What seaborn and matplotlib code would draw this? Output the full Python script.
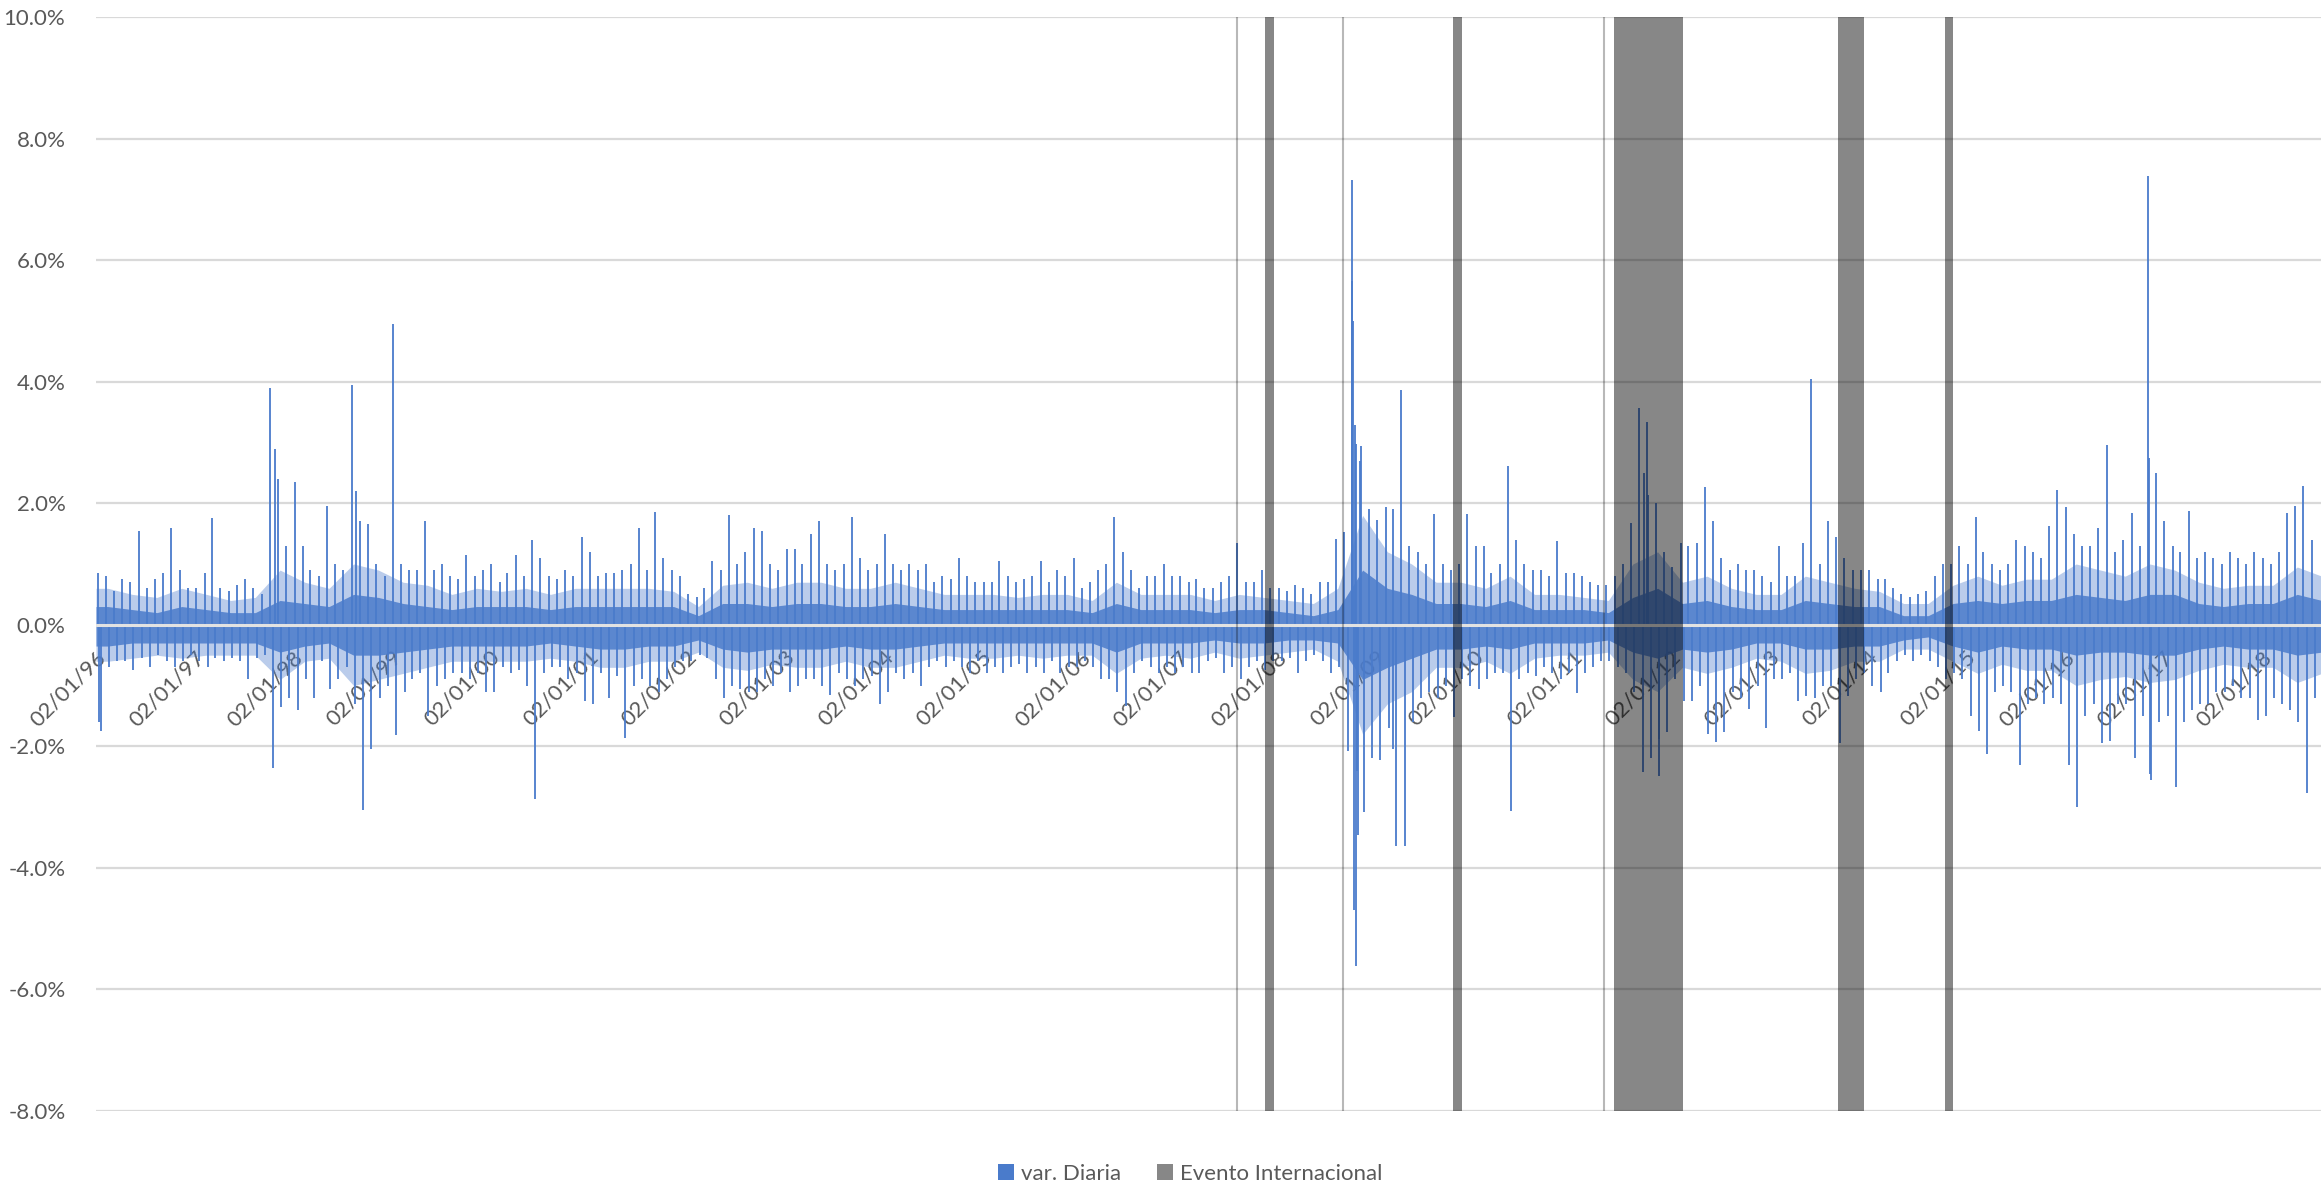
import matplotlib
matplotlib.use("Agg")
import numpy as np
import pandas as pd
import seaborn as sns
import matplotlib.pyplot as plt
import matplotlib.dates as mdates
from matplotlib.patches import Patch

# ---------------- data (values in %) ----------------
# monthly extreme daily variation, Jan-1996 .. Jul-2018
peak_up = [
    0.85, 0.8, 0.55, 0.75, 0.7, 1.55, 0.6, 0.75, 0.85, 1.6, 0.9, 0.6,      # 1996
    0.6, 0.85, 1.75, 0.6, 0.55, 0.65, 0.75, 0.6, 0.5, 3.9, 2.4, 1.3,       # 1997
    2.35, 1.3, 0.9, 0.8, 1.95, 1.0, 0.9, 3.95, 1.7, 1.65, 1.0, 0.8,        # 1998
    4.95, 1.0, 0.9, 0.9, 1.7, 0.9, 1.0, 0.8, 0.75, 1.15, 0.8, 0.9,         # 1999
    1.0, 0.7, 0.85, 1.15, 0.8, 1.4, 1.1, 0.8, 0.75, 0.9, 0.8, 1.45,        # 2000
    1.2, 0.8, 0.85, 0.85, 0.9, 1.0, 1.6, 0.9, 1.85, 1.1, 0.9, 0.8,         # 2001
    0.5, 0.45, 0.6, 1.05, 0.9, 1.8, 1.0, 1.2, 1.6, 1.55, 1.0, 0.9,         # 2002
    1.25, 1.25, 1.0, 1.5, 1.7, 1.0, 0.9, 1.0, 1.78, 1.1, 0.9, 1.0,         # 2003
    1.5, 1.0, 0.9, 1.0, 0.9, 1.0, 0.7, 0.8, 0.75, 1.1, 0.8, 0.7,           # 2004
    0.7, 0.7, 1.05, 0.8, 0.7, 0.75, 0.8, 1.05, 0.7, 0.9, 0.8, 1.1,         # 2005
    0.6, 0.7, 0.9, 1.0, 1.77, 1.2, 0.9, 0.6, 0.8, 0.8, 1.0, 0.8,           # 2006
    0.8, 0.7, 0.75, 0.6, 0.6, 0.7, 0.8, 1.34, 0.7, 0.7, 0.9, 0.6,          # 2007
    0.6, 0.55, 0.65, 0.6, 0.5, 0.7, 0.7, 1.41, 1.52, 7.31, 2.94, 1.9,      # 2008
    1.73, 1.93, 1.9, 3.86, 1.3, 1.2, 1.0, 1.82, 1.0, 0.9, 1.0, 1.82,       # 2009
    1.3, 1.3, 0.85, 1.0, 2.62, 1.4, 1.0, 0.9, 0.9, 0.8, 1.38, 0.85,        # 2010
    0.85, 0.8, 0.7, 0.65, 0.65, 0.8, 1.0, 1.68, 3.57, 3.34, 2.0, 1.2,      # 2011
    0.95, 1.35, 1.3, 1.35, 2.26, 1.7, 1.1, 0.9, 1.0, 0.9, 0.9, 0.8,        # 2012
    0.7, 1.3, 0.8, 0.8, 1.35, 4.04, 1.0, 1.71, 1.45, 1.1, 0.9, 0.9,        # 2013
    0.9, 0.75, 0.75, 0.6, 0.5, 0.45, 0.5, 0.55, 0.8, 1.0, 1.0, 1.3,        # 2014
    1.0, 1.78, 1.2, 1.0, 0.9, 1.0, 1.4, 1.3, 1.2, 1.1, 1.62, 2.22,         # 2015
    1.93, 1.5, 1.3, 1.3, 1.6, 2.96, 1.2, 1.4, 1.84, 1.3, 7.39, 2.49,       # 2016
    1.7, 1.3, 1.2, 1.88, 1.1, 1.2, 1.1, 1.0, 1.2, 1.1, 1.0, 1.2,           # 2017
    1.1, 1.0, 1.2, 1.84, 1.95, 2.28, 1.4,                                  # 2018
]
peak_down = [
    -1.75, -0.7, -0.6, -0.6, -0.75, -0.55, -0.7, -0.5, -0.6, -0.7, -0.6, -0.5,
    -0.6, -0.7, -0.55, -0.6, -0.55, -0.6, -0.9, -0.55, -0.5, -2.35, -1.35, -1.2,
    -1.4, -0.9, -1.2, -0.6, -1.06, -0.9, -0.7, -1.3, -3.05, -2.05, -1.2, -1.0,
    -1.82, -1.1, -0.9, -0.8, -1.5, -1.0, -0.9, -0.8, -0.8, -0.9, -0.8, -1.1,
    -1.1, -0.7, -0.8, -0.75, -1.0, -2.86, -0.8, -0.7, -0.7, -0.9, -0.8, -1.25,
    -1.3, -0.8, -1.2, -0.85, -1.86, -1.0, -0.9, -1.0, -1.1, -0.9, -0.7, -0.6,
    -0.6, -0.5, -0.55, -0.9, -1.2, -1.0, -1.05, -1.1, -1.1, -0.9, -1.0, -0.8,
    -1.1, -1.0, -0.9, -0.9, -1.0, -1.15, -0.8, -0.9, -1.0, -0.9, -0.85, -1.3,
    -1.1, -0.8, -0.9, -0.8, -1.0, -0.7, -0.6, -0.7, -0.6, -0.7, -0.8, -0.6,
    -0.8, -0.7, -0.8, -0.7, -0.65, -0.8, -0.7, -0.8, -0.6, -0.8, -0.7, -0.7,
    -0.6, -0.7, -0.9, -0.9, -1.1, -1.34, -0.8, -0.6, -0.7, -0.8, -0.7, -0.8,
    -0.7, -0.8, -0.8, -0.6, -0.55, -0.8, -0.7, -0.9, -0.7, -0.6, -0.75, -0.6,
    -0.6, -0.55, -0.8, -0.6, -0.5, -0.6, -0.8, -0.7, -2.07, -5.62, -3.08, -2.2,
    -2.23, -1.7, -3.64, -3.64, -1.6, -1.2, -1.1, -1.2, -1.0, -1.52, -0.9, -1.0,
    -1.05, -0.9, -0.8, -0.8, -3.07, -0.9, -0.8, -0.85, -0.7, -0.8, -0.9, -0.8,
    -1.13, -0.8, -0.7, -0.6, -0.6, -0.7, -0.8, -1.1, -2.42, -2.2, -2.48, -1.77,
    -0.9, -1.25, -1.25, -1.0, -1.8, -1.93, -1.77, -1.1, -1.2, -1.39, -1.0, -1.7,
    -0.9, -0.9, -0.8, -1.26, -1.17, -1.2, -1.0, -1.0, -1.95, -1.17, -0.9, -0.8,
    -1.0, -1.1, -0.8, -0.6, -0.5, -0.6, -0.5, -0.6, -0.7, -0.9, -0.8, -0.9,
    -1.5, -1.75, -2.13, -1.1, -1.0, -1.1, -2.3, -1.3, -1.2, -1.3, -1.2, -1.3,
    -2.3, -3.0, -1.5, -1.3, -1.95, -1.91, -1.3, -1.3, -2.2, -1.5, -2.55, -1.6,
    -1.5, -2.67, -1.6, -1.4, -1.3, -1.3, -1.1, -1.1, -1.0, -1.2, -1.2, -1.57,
    -1.5, -1.2, -1.3, -1.4, -1.6, -2.77, -1.2,
]

# other notable single-day moves
spike_dates = ["1996-01-12", "1997-10-29", "1998-08-25", "2008-10-06", "2008-10-10",
               "2008-10-13", "2008-10-16", "2008-10-21", "2008-10-24", "2008-10-28",
               "2008-11-05", "2009-03-06", "2011-09-27", "2011-10-11", "2011-11-21",
               "2016-11-11", "2016-11-15"]
spike_values = [-1.6, 2.9, 2.2, 5.66, 5.0,
                -4.7, 3.28, 2.97, -2.4, -3.46,
                2.7, -2.05, 2.5, 2.13, -1.88,
                2.75, -2.46]

# quarterly envelope of the dense core / of the bulk of the bars (1996Q1 .. 2018Q3)
core_up = [0.3, 0.25, 0.2, 0.3, 0.25, 0.2, 0.2, 0.4, 0.35, 0.3, 0.5, 0.45,
           0.35, 0.3, 0.25, 0.3, 0.3, 0.3, 0.25, 0.3, 0.3, 0.3, 0.3, 0.3,
           0.15, 0.35, 0.35, 0.3, 0.35, 0.35, 0.3, 0.3, 0.35, 0.3, 0.25, 0.25,
           0.25, 0.25, 0.25, 0.25, 0.2, 0.35, 0.25, 0.25, 0.25, 0.2, 0.25, 0.25,
           0.2, 0.15, 0.25, 0.9, 0.6, 0.5, 0.35, 0.35, 0.3, 0.4, 0.25, 0.25,
           0.25, 0.2, 0.45, 0.6, 0.35, 0.4, 0.3, 0.25, 0.25, 0.4, 0.35, 0.3,
           0.3, 0.15, 0.15, 0.35, 0.4, 0.35, 0.4, 0.4, 0.5, 0.45, 0.4, 0.5,
           0.5, 0.35, 0.3, 0.35, 0.35, 0.5, 0.4]
core_down = [-0.35, -0.3, -0.3, -0.3, -0.3, -0.3, -0.3, -0.45, -0.35, -0.3, -0.5, -0.5,
             -0.45, -0.4, -0.35, -0.35, -0.35, -0.35, -0.3, -0.35, -0.4, -0.4, -0.35, -0.35,
             -0.25, -0.4, -0.45, -0.4, -0.4, -0.4, -0.35, -0.4, -0.4, -0.35, -0.3, -0.3,
             -0.3, -0.3, -0.3, -0.3, -0.3, -0.45, -0.3, -0.3, -0.3, -0.25, -0.3, -0.3,
             -0.25, -0.25, -0.3, -0.9, -0.7, -0.55, -0.4, -0.4, -0.35, -0.4, -0.3, -0.3,
             -0.3, -0.25, -0.45, -0.55, -0.4, -0.45, -0.4, -0.3, -0.3, -0.4, -0.4, -0.35,
             -0.35, -0.25, -0.2, -0.35, -0.45, -0.35, -0.4, -0.4, -0.5, -0.45, -0.45, -0.5,
             -0.5, -0.4, -0.35, -0.4, -0.4, -0.5, -0.45]
bulk_up = [0.6, 0.5, 0.45, 0.6, 0.5, 0.4, 0.45, 0.9, 0.7, 0.6, 1.0, 0.9,
           0.7, 0.65, 0.5, 0.6, 0.55, 0.6, 0.5, 0.6, 0.6, 0.6, 0.6, 0.55,
           0.3, 0.65, 0.7, 0.6, 0.7, 0.7, 0.6, 0.6, 0.7, 0.6, 0.5, 0.5,
           0.5, 0.45, 0.5, 0.5, 0.4, 0.7, 0.5, 0.5, 0.5, 0.4, 0.5, 0.45,
           0.4, 0.35, 0.6, 1.8, 1.2, 1.0, 0.7, 0.7, 0.6, 0.8, 0.5, 0.5,
           0.45, 0.4, 1.0, 1.2, 0.7, 0.8, 0.6, 0.5, 0.5, 0.8, 0.7, 0.6,
           0.55, 0.35, 0.35, 0.65, 0.8, 0.65, 0.75, 0.75, 1.0, 0.9, 0.8, 1.0,
           0.9, 0.7, 0.6, 0.65, 0.65, 0.95, 0.8]
bulk_down = [-0.6, -0.55, -0.5, -0.55, -0.5, -0.5, -0.5, -0.9, -0.6, -0.55, -1.0, -0.9,
             -0.8, -0.7, -0.6, -0.6, -0.6, -0.6, -0.55, -0.6, -0.7, -0.7, -0.6, -0.6,
             -0.45, -0.7, -0.75, -0.65, -0.7, -0.7, -0.6, -0.7, -0.7, -0.6, -0.5, -0.55,
             -0.55, -0.5, -0.55, -0.5, -0.5, -0.8, -0.55, -0.5, -0.55, -0.45, -0.55, -0.5,
             -0.45, -0.4, -0.6, -1.8, -1.3, -1.1, -0.7, -0.7, -0.6, -0.8, -0.55, -0.5,
             -0.5, -0.45, -0.9, -1.1, -0.7, -0.8, -0.7, -0.55, -0.6, -0.8, -0.75, -0.6,
             -0.6, -0.4, -0.4, -0.6, -0.8, -0.65, -0.75, -0.75, -1.0, -0.9, -0.85, -0.95,
             -0.9, -0.75, -0.65, -0.7, -0.7, -0.95, -0.8]

# "Evento Internacional" periods (start date, length in days; 0 = single day)
event_start = ["2007-08-06", "2007-11-19", "2008-09-04", "2009-10-18",
               "2011-04-29", "2011-06-07", "2013-09-14", "2014-10-16"]
event_days = [0, 33, 0, 33, 0, 256, 96, 32]

tick_years = list(range(1996, 2019))
y_ticks = [-8, -6, -4, -2, 0, 2, 4, 6, 8, 10]

# ---------------- style ----------------
sns.set_theme(style="white")
plt.rcParams["font.family"] = ["Lato", "DejaVu Sans"]
BLUE = "#4A7BCB"
TXT = "#595959"
GRID = "#D9D9D9"

W, H = 2321, 1188
fig = plt.figure(figsize=(W / 100, H / 100), dpi=100)
ax = fig.add_axes([96 / W, 1 - 1111 / H, 1 - 96 / W, (1111 - 17) / H])

x0 = pd.Timestamp("1996-01-02")
x1 = pd.Timestamp("2018-08-12")

# horizontal grid
for v in y_ticks:
    ax.axhline(v, color=GRID, lw=1.6, zorder=0)

# quarterly envelopes (drawn through quarter mid-points)
q = pd.date_range("1996-01-01", periods=len(core_up), freq="QS")
qmid = mdates.date2num(q + pd.Timedelta(days=45))
qx = np.concatenate([[mdates.date2num(x0)], qmid, [mdates.date2num(x1)]])

def ext(vals):
    return [vals[0]] + list(vals) + [vals[-1]]

ax.fill_between(qx, ext(bulk_up), ext(bulk_down), color=BLUE, alpha=0.38, lw=0, zorder=1)
ax.fill_between(qx, ext(core_up), ext(core_down), color=BLUE, alpha=0.85, lw=0, zorder=1)

# monthly extremes as daily bars
months = pd.date_range("1996-01-01", periods=len(peak_up), freq="MS")
ux = mdates.date2num(months + pd.Timedelta(days=7))
dx = mdates.date2num(months + pd.Timedelta(days=19))
ax.vlines(ux, 0, peak_up, color=BLUE, lw=1.3, zorder=2)
ax.vlines(dx, 0, peak_down, color=BLUE, lw=1.3, zorder=2)
sx = mdates.date2num(pd.to_datetime(spike_dates))
ax.vlines(sx, 0, spike_values, color=BLUE, lw=1.3, zorder=2)

# zero axis line
ax.axhline(0, color="#E2E2E2", lw=2.2, zorder=3)

# international events
es = pd.to_datetime(event_start)
for s, d in zip(es, event_days):
    if d == 0:
        ax.axvline(mdates.date2num(s), color="black", alpha=0.28, lw=1.5, zorder=4)
    else:
        ax.bar(mdates.date2num(s), 18, width=d, bottom=-8, align="edge",
               color="black", alpha=0.47, lw=0, zorder=4)

ax.set_xlim(mdates.date2num(x0), mdates.date2num(x1))
ax.set_ylim(-8, 10)

for sp in ax.spines.values():
    sp.set_visible(False)
ax.spines["bottom"].set_position(("data", 0))

ticks = mdates.date2num([pd.Timestamp(f"{y}-01-02") for y in tick_years])
ax.set_xticks(ticks)
ax.set_xticklabels([f"02/01/{str(y)[2:]}" for y in tick_years], rotation=45,
                   ha="right", va="top", rotation_mode="anchor",
                   fontsize=16, color=TXT)
ax.tick_params(axis="x", length=0, pad=16)
ax.set_yticks(y_ticks)
ax.set_yticklabels([f"{v:.1f}%" for v in y_ticks], fontsize=16, color=TXT)
ax.tick_params(axis="y", length=0, pad=22)
ax.grid(False)

handles = [Patch(facecolor=BLUE, edgecolor="none", label="var. Diaria"),
           Patch(facecolor="#878787", edgecolor="none", label="Evento Internacional")]
fig.legend(handles=handles, loc="center", bbox_to_anchor=(1190 / W, 1 - 1174 / H),
           ncol=2, frameon=False, fontsize=16, labelcolor=TXT,
           handlelength=0.75, handleheight=0.75, handletextpad=0.3, columnspacing=1.6)

fig.savefig("out.png", dpi=100)
